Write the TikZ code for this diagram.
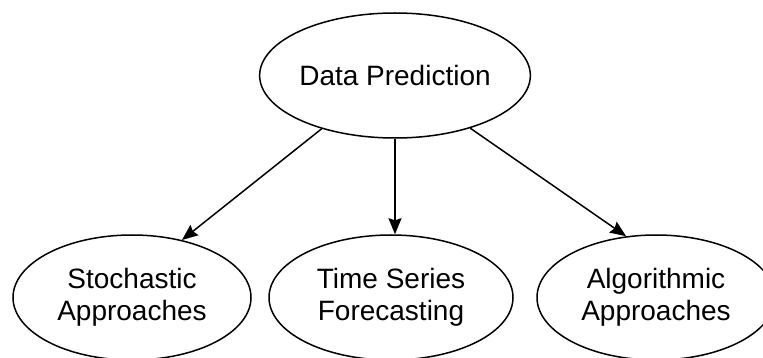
\documentclass[tikz,border=0pt]{standalone}
\usepackage{fontspec}
\setmainfont{Liberation Sans}
\usetikzlibrary{shapes.geometric,arrows.meta}
\begin{document}
\begin{tikzpicture}[x=1pt,y=-1pt,
  oval/.style={draw,ellipse,line width=1.5pt,inner sep=0pt,minimum width=238pt,minimum height=125pt,align=center,font=\fontsize{28}{32}\selectfont},
  conn/.style={draw,line width=1.5pt,-{Stealth[length=16pt,width=13pt,inset=2pt]}}]
\useasboundingbox (0,0) rectangle (763,358);
\node[oval] (top) at (395,75.5) {Data Prediction};
\node[oval] (sto) at (132,297.5) {Stochastic\\Approaches};
\node[oval,minimum width=244pt] (tsf) at (391,297.5) {Time Series\\Forecasting};
\node[oval] (alg) at (656,297.5) {Algorithmic\\Approaches};
\draw[conn] (top.216) -- (sto.49);
\draw[conn] (top.south) -- (top.south |- tsf.north);
\draw[conn] (top.325) -- (alg.116);
\end{tikzpicture}
\end{document}
